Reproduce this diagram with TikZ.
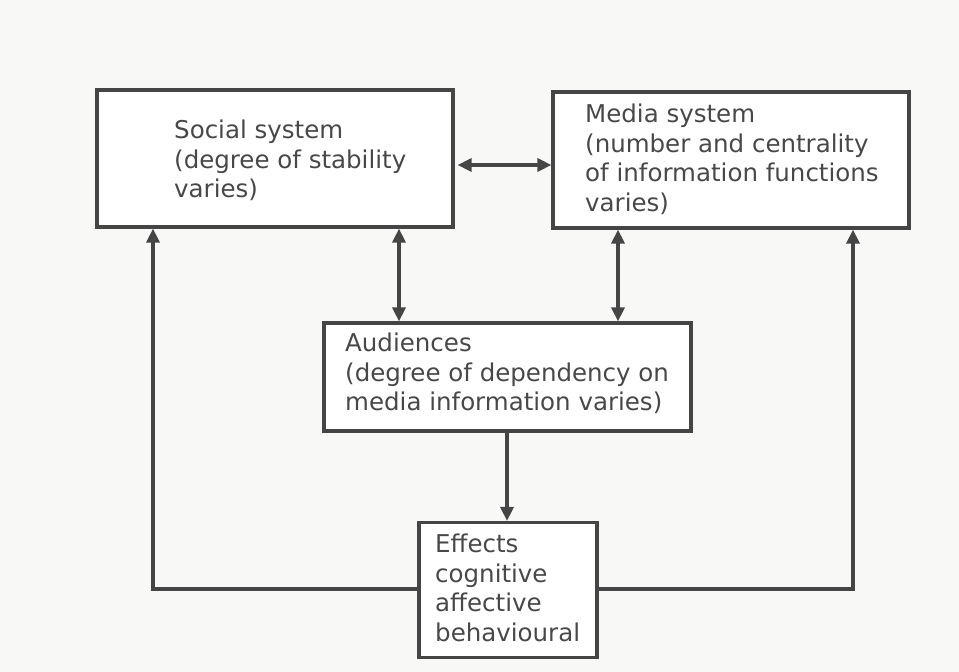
\documentclass[tikz,border=0pt]{standalone}
\usepackage{fontspec}
\setmainfont{DejaVu Sans}
\usetikzlibrary{arrows.meta}
\definecolor{linegray}{HTML}{454545}
\definecolor{textgray}{HTML}{484848}
\definecolor{paper}{HTML}{F8F8F6}
\begin{document}
\begin{tikzpicture}[x=1pt,y=-1pt,
  boxnode/.style={draw=linegray,line width=3.2pt,inner sep=0pt,fill=white},
  txt/.style={anchor=north west,align=left,inner sep=0pt,text=textgray,
    font=\fontsize{24.5}{29.5}\selectfont},
  conn/.style={draw=linegray,line width=3.4pt,
    -{Triangle[length=14pt,width=13pt]}},
  dconn/.style={draw=linegray,line width=3.4pt,
    {Triangle[length=14pt,width=13pt]}-{Triangle[length=14pt,width=13pt]}}]
\fill[paper] (0,0) rectangle (959,672);
\useasboundingbox (0,0) rectangle (959,672);
% boxes
\node[boxnode,minimum width=356pt,minimum height=137pt] (social) at (275,158.5) {};
\node[boxnode,minimum width=356pt,minimum height=136pt] (media) at (731,160) {};
\node[boxnode,minimum width=367pt,minimum height=108pt] (aud) at (507.5,377) {};
\node[boxnode,minimum width=178pt,minimum height=135pt] (eff) at (508,590) {};
% texts
\node[txt] (socialtxt) at (174,120) {Social system\\(degree of stability\\varies)};
\node[txt] (mediatxt) at (585,104) {Media system\\(number and centrality\\of information functions\\varies)};
\node[txt] (audtxt) at (345,333) {Audiences\\(degree of dependency on\\media information varies)};
\node[txt] (efftxt) at (435,534) {Effects\\cognitive\\affective\\behavioural};
% connectors
\draw[dconn] (social.east |- 0,165) ++(3,0) coordinate (hl) -- (media.west |- 0,165) coordinate (hr);
\draw[dconn] (social.south -| 399,0) -- (aud.north -| 399,0);
\draw[dconn] (media.south -| 618,0) -- (aud.north -| 618,0);
\draw[conn] (aud.south -| 507,0) -- (eff.north -| 507,0);
\coordinate (fl) at (153,589);
\coordinate (fr) at (853,589);
\draw[conn] (eff.west |- fl) -- (fl) -- (social.south -| fl);
\draw[conn] (eff.east |- fr) -- (fr) -- (media.south -| fr);
\end{tikzpicture}
\end{document}
